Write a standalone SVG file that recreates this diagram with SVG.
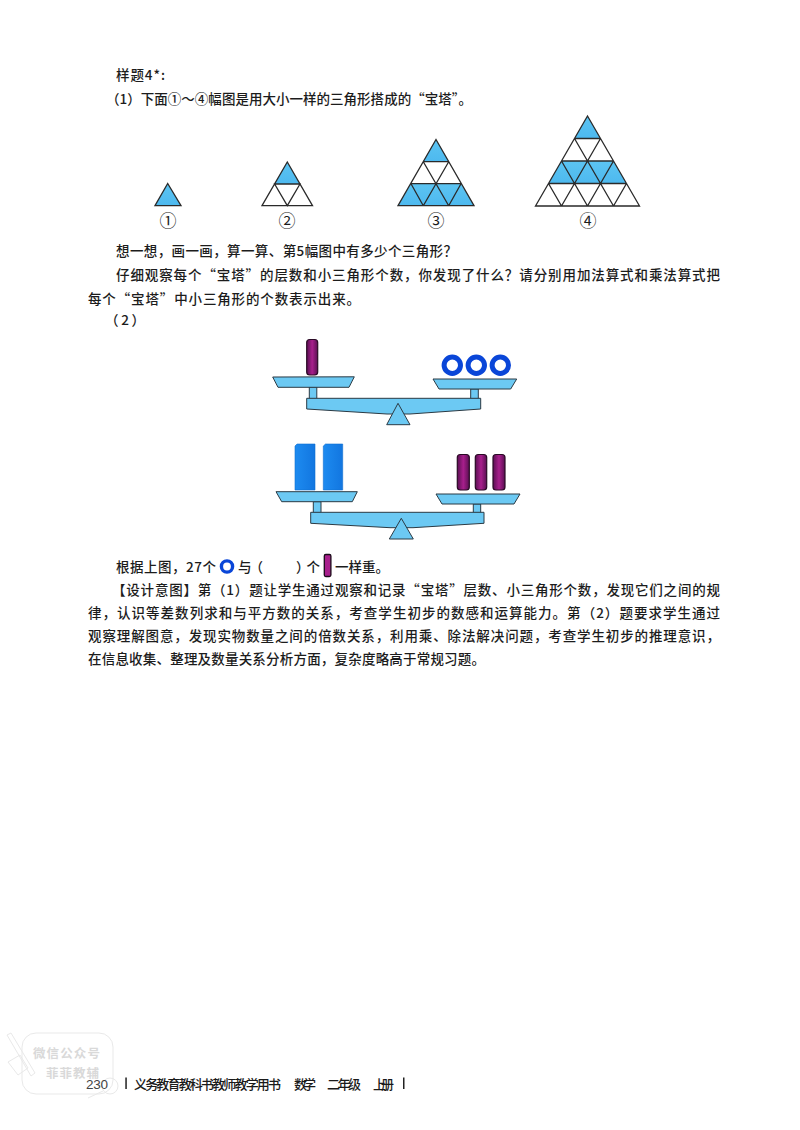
<svg xmlns="http://www.w3.org/2000/svg" width="800" height="1130" viewBox="0 0 800 1130">
<style>
text{font-family:"Noto Sans CJK SC","Noto Sans",sans-serif;fill:#1c1c1c;font-size:13.5px;font-weight:500}
.num{font-family:"Liberation Serif","Noto Sans CJK SC",serif;font-size:17px;text-anchor:middle;font-weight:400}
.f{font-size:13px;fill:#1a1a1a}
.w{fill:#d9d9d9;font-size:12.5px;font-weight:700}
.tri{fill:none;stroke:#2a2a2a;stroke-width:1.3;stroke-linejoin:miter}
.b{fill:url(#sky);stroke:none}
.sc{fill:#6cc9f3;stroke:#2b3a44;stroke-width:1;stroke-linejoin:round}
.bar{fill:url(#plum);stroke:#2a0a25;stroke-width:1.2}
.blk{fill:url(#azure);stroke:#0f6fd0;stroke-width:.6}
.ring{fill:none;stroke:#0a46d8;stroke-width:5}
.wm{fill:none;stroke:#e9e9e9;stroke-width:1}
</style>
<defs>
<linearGradient id="sky" x1="0" y1="0" x2="0" y2="1"><stop offset="0" stop-color="#5cc4f2"/><stop offset="1" stop-color="#4db9ef"/></linearGradient>
<linearGradient id="plum" x1="0" y1="0" x2="1" y2="0"><stop offset="0" stop-color="#5a0f52"/><stop offset=".5" stop-color="#a81f8c"/><stop offset="1" stop-color="#5a0f52"/></linearGradient>
<linearGradient id="azure" x1="0" y1="0" x2="1" y2="0"><stop offset="0" stop-color="#1d8bf0"/><stop offset="1" stop-color="#1276e0"/></linearGradient>
</defs>
<rect width="800" height="1130" fill="#fff"/>

<g id="intro-text">
<text x="116" y="80" textLength="49" lengthAdjust="spacing">样题4*:</text>
<text x="106" y="104" textLength="366" lengthAdjust="spacing">（1）下面①～④幅图是用大小一样的三角形搭成的“宝塔”。</text>
</g>

<g id="tower-1">
<path class="b" d="M167.7 183.5L181 205.7H155Z"/>
<path class="tri" d="M167.7 183.5L181 205.7H155Z"/>
<text class="num" x="168" y="227">①</text>
</g>
<g id="tower-2">
<path class="b" d="M287.3 162L300 184H274.5Z"/>
<path class="tri" d="M287.3 162L312.5 205.7H262ZM274.6 184H300L287.3 205.7Z"/>
<text class="num" x="287" y="227">②</text>
</g>
<g id="tower-3">
<path class="b" d="M436 139.5L449 161.7H423Z"/>
<path class="b" d="M411 183.7H461L474 205.7H398Z"/>
<path class="tri" d="M436 139.5L474 205.7H398ZM423.3 161.7H448.7M411 183.7H461M423.3 161.7L448.7 205.7M448.7 161.7L423.3 205.7M411 183.7L423.3 205.7M461 183.7L448.7 205.7"/>
<text class="num" x="436" y="227">③</text>
</g>
<g id="tower-4">
<path class="b" d="M587.5 116L600.4 138.5H574.6Z"/>
<path class="b" d="M561.6 161H613.4L626.4 183.5H548.6Z"/>
<path class="tri" d="M587.5 116L639.5 206H535.5ZM574.5 138.5H600.5M561.5 161H613.5M548.5 183.5H626.5M574.5 138.5L613.5 206M600.5 138.5L561.5 206M561.5 161L587.5 206M613.5 161L587.5 206M548.5 183.5L561.5 206M626.5 183.5L613.5 206"/>
<text class="num" x="588" y="227">④</text>
</g>

<g id="question-text">
<text x="116" y="256" textLength="341" lengthAdjust="spacing">想一想，画一画，算一算、第5幅图中有多少个三角形？</text>
<text x="116" y="280" textLength="604" lengthAdjust="spacing">仔细观察每个“宝塔”的层数和小三角形个数，你发现了什么？请分别用加法算式和乘法算式把</text>
<text x="88" y="304" textLength="272" lengthAdjust="spacing">每个“宝塔”中小三角形的个数表示出来。</text>
<text x="105" y="325" textLength="40" lengthAdjust="spacing">（2）</text>
</g>

<g id="balance-1">
<rect class="bar" x="306.7" y="339.5" width="11" height="35.5" rx="3"/>
<circle class="ring" cx="452.3" cy="365.3" r="8.2"/>
<circle class="ring" cx="476.3" cy="365.3" r="8.2"/>
<circle class="ring" cx="500.3" cy="365.3" r="8.2"/>
<rect class="sc" x="309.3" y="387" width="7.5" height="12"/>
<rect class="sc" x="470.7" y="389" width="7.6" height="10"/>
<path class="sc" d="M272.7 377L354.3 376.8L349 387.3H278Z"/>
<path class="sc" d="M433 379H516.7L510.7 389H439Z"/>
<path class="sc" d="M306.7 398.3H480.7V409L410 414H387L306.7 409Z"/>
<path class="sc" d="M398 403.3L410 424.7H386.7Z"/>
</g>

<g id="balance-2">
<path class="blk" d="M295 446L297 444H315V490H295Z"/>
<path class="blk" d="M323.3 446L325.5 444H342.7V490H323.3Z"/>
<rect class="bar" x="457.3" y="454.5" width="12" height="35.5" rx="3"/>
<rect class="bar" x="475.3" y="454.5" width="11.4" height="35.5" rx="3"/>
<rect class="bar" x="493" y="454.5" width="12" height="35.5" rx="3"/>
<rect class="sc" x="313.3" y="501.7" width="7.7" height="11"/>
<rect class="sc" x="473.3" y="504" width="7.4" height="9"/>
<path class="sc" d="M276 491.7H357.3L352.3 501.7H281.7Z"/>
<path class="sc" d="M436 494H520L514 504H442Z"/>
<path class="sc" d="M310.7 512.3H484V523.3L413 527.7H390L310.7 523.3Z"/>
<path class="sc" d="M401.3 518.3L413.3 539H389.3Z"/>
</g>

<g id="answer-text">
<text x="116" y="572" textLength="100" lengthAdjust="spacing">根据上图，27个</text>
<circle cx="227" cy="566.5" r="5.6" fill="none" stroke="#0a46d8" stroke-width="3.4"/>
<text x="238" y="572" textLength="25" lengthAdjust="spacing">与（</text>
<text x="296" y="572" textLength="24" lengthAdjust="spacing">）个</text>
<rect x="324.3" y="554.5" width="6.6" height="22" rx="1.5" fill="#a81f8c" stroke="#1a0a18" stroke-width="1.3"/>
<text x="335" y="572" textLength="54" lengthAdjust="spacing">一样重。</text>
</g>

<g id="design-text">
<text x="112" y="594.5" textLength="608" lengthAdjust="spacing">【设计意图】第（1）题让学生通过观察和记录“宝塔”层数、小三角形个数，发现它们之间的规</text>
<text x="88" y="617.5" textLength="632" lengthAdjust="spacing">律，认识等差数列求和与平方数的关系，考查学生初步的数感和运算能力。第（2）题要求学生通过</text>
<text x="88" y="640.5" textLength="632" lengthAdjust="spacing">观察理解图意，发现实物数量之间的倍数关系，利用乘、除法解决问题，考查学生初步的推理意识，</text>
<text x="88" y="664" textLength="397" lengthAdjust="spacing">在信息收集、整理及数量关系分析方面，复杂度略高于常规习题。</text>
</g>

<g id="watermark">
<rect class="wm" x="22" y="1033" width="91" height="61" rx="14"/>
<path class="wm" d="M7 1035L11 1033L35 1073L31 1076ZM8 1062L20 1055L28 1068L18 1075Z"/>
<circle class="wm" cx="110" cy="1086" r="8"/>
<path class="wm" d="M103 1091L88 1098"/>
<text class="w" x="33" y="1058" textLength="67" lengthAdjust="spacing">微信公众号</text>
<text class="w" x="46" y="1078" textLength="53" lengthAdjust="spacing">菲菲教辅</text>
</g>

<g id="footer">
<text x="86" y="1088.5" style="font-family:'Liberation Sans',sans-serif;font-size:13.5px;fill:#444;font-weight:400" textLength="22">230</text>
<rect x="125.3" y="1077.5" width="1.5" height="11.5" fill="#222"/>
<text class="f" x="134" y="1089" textLength="147" lengthAdjust="spacing">义务教育教科书教师教学用书</text>
<text class="f" x="294" y="1089" textLength="22" lengthAdjust="spacing">数学</text>
<text class="f" x="327" y="1089" textLength="34" lengthAdjust="spacing">二年级</text>
<text class="f" x="373" y="1089" textLength="21" lengthAdjust="spacing">上册</text>
<rect x="403" y="1077.5" width="1.5" height="11.5" fill="#222"/>
</g>
</svg>
